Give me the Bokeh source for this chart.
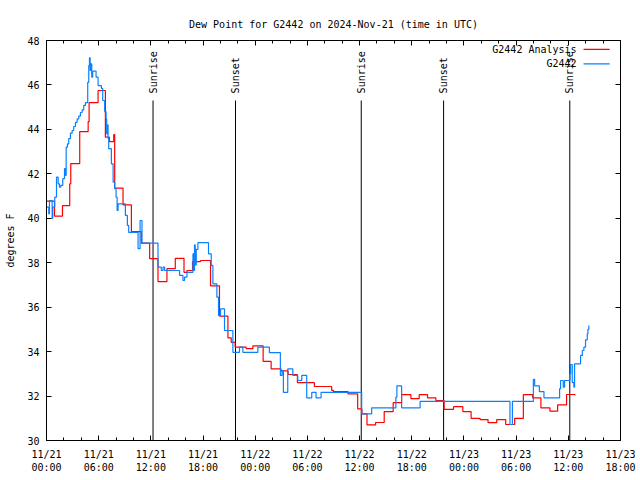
import math
from bokeh.plotting import figure
from bokeh.models import Range1d, FixedTicker, LinearAxis, Title
from bokeh.core.properties import value
from bokeh.embed import file_html
from bokeh.resources import INLINE

FONT = "DejaVu Sans Mono"

# ---- data (hours since 2024-11-21 00:00 UTC, dew point in degrees F) ----
analysis_hours = [0.0, 0.92, 1.84, 2.67, 2.79, 3.82, 4.79, 4.90, 5.93, 6.77, 7.23, 7.73, 7.84,
                  8.80, 9.76, 10.90, 11.86, 12.82, 13.85, 14.81, 15.81, 16.15, 16.79, 17.71,
                  18.86, 19.89, 20.86, 21.24, 21.69, 22.96, 23.73, 24.91, 25.83, 26.97, 27.78,
                  28.85, 30.80, 32.79, 32.98, 34.66, 35.78, 36.27, 36.85, 37.84, 38.83, 39.86,
                  40.83, 41.90, 42.85, 43.81, 44.77, 45.72, 46.80, 47.87, 48.82, 49.85, 50.77,
                  51.77, 52.80, 53.83, 54.83, 55.90, 56.85, 57.89, 58.77, 59.80, 60.76]
analysis_dewpoint = [40.77, 40.1, 40.57, 41.55, 42.46, 43.9, 44.35, 45.2, 45.75, 43.65, 43.45,
                     43.76, 41.36, 40.6, 39.4, 38.88, 38.18, 37.15, 37.73, 38.2, 37.57, 37.65,
                     38.05, 38.1, 36.96, 35.6, 34.62, 34.42, 34.2, 34.13, 34.26, 33.56, 33.22,
                     33.13, 32.97, 32.6, 32.43, 32.26, 32.2, 32.1, 31.42, 31.2, 30.7, 30.81,
                     31.3, 31.7, 32.06, 31.88, 32.06, 31.92, 31.8, 31.4, 31.52, 31.3, 31.0,
                     30.94, 30.8, 30.94, 30.72, 31.0, 32.06, 31.92, 31.47, 31.32, 31.6, 32.07,
                     32.02]

obs_hours = [0.0, 0.26, 0.34, 0.65, 0.72, 0.95, 1.15, 1.34, 1.49, 1.64, 1.87, 2.07, 2.18, 2.26,
             2.41, 2.56, 2.75, 2.95, 3.13, 3.33, 3.52, 3.71, 3.90, 4.10, 4.28, 4.48, 4.74, 4.86,
             4.94, 5.02, 5.13, 5.20, 5.31, 5.70, 5.93, 6.31, 6.46, 6.69, 6.85, 6.92, 7.00, 7.08,
             7.15, 7.46, 7.66, 7.84, 8.00, 8.12, 8.23, 9.07, 9.30, 9.45, 10.53, 10.76, 10.98,
             12.82, 13.20, 13.40, 13.58, 15.30, 15.69, 15.87, 16.15, 16.84, 16.95, 17.02, 17.10,
             17.22, 17.41, 18.63, 18.94, 19.13, 19.59, 19.78, 20.01, 20.47, 21.43, 22.19, 22.58,
             24.30, 25.63, 26.89, 27.09, 27.24, 27.74, 28.32, 28.89, 29.35, 29.92, 30.50, 30.99,
             31.57, 36.24, 37.39, 40.17, 40.29, 40.83, 42.96, 53.29, 53.57, 55.98, 56.13, 56.67,
             57.20, 59.00, 59.11, 59.42, 59.57, 60.18, 60.26, 60.45, 60.64, 60.72, 61.41, 61.61,
             61.79, 61.98, 62.18, 62.25, 62.36]
obs_dewpoint = [40.5, 40.2, 40.8, 40.0, 40.5, 40.95, 41.85, 41.55, 41.4, 41.48, 41.78, 42.23,
                41.93, 43.2, 43.35, 43.58, 43.83, 43.95, 44.13, 44.32, 44.47, 44.6, 44.76, 44.88,
                45.08, 45.2, 46.12, 46.87, 47.22, 46.65, 46.95, 46.35, 46.62, 46.35, 45.97, 45.85,
                45.3, 44.8, 44.47, 43.8, 44.2, 43.6, 43.13, 42.45, 41.63, 41.33, 40.95, 40.35,
                40.65, 40.13, 39.68, 39.37, 38.63, 39.9, 38.88, 37.8, 37.65, 37.8, 37.65, 37.43,
                37.2, 37.35, 37.57, 38.4, 37.65, 38.8, 37.9, 38.6, 38.9, 38.4, 37.88, 37.05,
                36.45, 35.63, 35.92, 34.95, 33.97, 34.2, 33.97, 34.2, 33.95, 32.93, 33.15, 32.17,
                33.22, 32.93, 32.7, 32.93, 31.92, 32.17, 31.92, 32.17, 31.2, 31.47, 31.95, 32.46,
                31.47, 31.76, 30.72, 31.76, 32.75, 32.46, 32.2, 31.92, 32.33, 32.7, 32.4, 32.7,
                33.0, 33.42, 32.6, 32.4, 33.45, 33.83, 34.05, 34.2, 34.53, 34.8, 35.0, 35.17]

sun_hours = [12.25, 21.73, 36.19, 45.66, 60.17]
sun_names = ["Sunrise", "Sunset", "Sunrise", "Sunset", "Sunrise"]

tick_hours = [0, 6, 12, 18, 24, 30, 36, 42, 48, 54, 60, 66]
tick_labels = ["11/21\n00:00", "11/21\n06:00", "11/21\n12:00", "11/21\n18:00",
               "11/22\n00:00", "11/22\n06:00", "11/22\n12:00", "11/22\n18:00",
               "11/23\n00:00", "11/23\n06:00", "11/23\n12:00", "11/23\n18:00"]
y_ticks = [30, 32, 34, 36, 38, 40, 42, 44, 46, 48]

title_text = "Dew Point for G2442 on 2024-Nov-21 (time in UTC)"
series_names = ["G2442 Analysis", "G2442"]
RED = "#ff0000"
BLUE = "#0a80ff"

p = figure(width=640, height=480, output_backend="svg", toolbar_location=None,
           x_range=Range1d(0, 66), y_range=Range1d(30, 48),
           min_border_left=46, min_border_right=20, min_border_top=40, min_border_bottom=40)
p.background_fill_color = "white"
p.border_fill_color = "white"
p.outline_line_color = "black"
p.outline_line_width = 1
p.xgrid.visible = False
p.ygrid.visible = False

p.title = Title(text=title_text, align="center",
                text_font=FONT, text_font_size="10px", text_font_style="normal",
                text_color="black", standoff=22)

def style_axis(ax, labels=True):
    ax.axis_line_color = "black"
    ax.major_tick_in = 5
    ax.major_tick_out = 0
    ax.minor_tick_in = 3
    ax.minor_tick_out = 0
    ax.major_tick_line_color = "black"
    ax.minor_tick_line_color = "black"
    ax.major_label_text_font = FONT
    ax.major_label_text_font_size = "10px"
    ax.major_label_text_color = "black"
    if not labels:
        ax.major_label_text_font_size = "0px"
        ax.major_label_text_alpha = 0
        ax.major_label_standoff = 0

xt = FixedTicker(ticks=tick_hours, minor_ticks=list(range(0, 67, 2)))
yt = FixedTicker(ticks=y_ticks, minor_ticks=[])

p.xaxis.ticker = xt
p.xaxis.major_label_overrides = {h: lab for h, lab in zip(tick_hours, tick_labels)}
p.xaxis.major_label_standoff = 8
style_axis(p.xaxis[0])
p.yaxis.ticker = yt
p.yaxis.major_label_standoff = 7
p.yaxis.axis_label = "degrees F"
p.yaxis.axis_label_text_font = FONT
p.yaxis.axis_label_text_font_size = "10px"
p.yaxis.axis_label_text_font_style = "normal"
p.yaxis.axis_label_text_color = "black"
p.yaxis.axis_label_standoff = 8
style_axis(p.yaxis[0])

top = LinearAxis(ticker=xt)
style_axis(top, labels=False)
p.add_layout(top, "above")
right = LinearAxis(ticker=yt)
style_axis(right, labels=False)
p.add_layout(right, "right")

# sunrise / sunset markers
p.segment(x0=sun_hours, y0=[30] * len(sun_hours), x1=sun_hours, y1=[45.3] * len(sun_hours),
          line_color="black", line_width=1)
p.text(x=sun_hours, y=[45.62] * len(sun_hours), text=sun_names, angle=math.pi / 2,
       text_align="left", text_baseline="middle", text_font=value(FONT),
       text_font_size="10px", text_color="black")

# data
p.step(analysis_hours, analysis_dewpoint, mode="after", line_color=RED, line_width=1.2)
p.step(obs_hours, obs_dewpoint, mode="after", line_color=BLUE, line_width=1.2)

# gnuplot-style key (text, then line sample)
key_y = [47.6, 46.95]
p.text(x=[60.95, 60.95], y=key_y, text=series_names, text_align="right",
       text_baseline="middle", text_font=value(FONT), text_font_size="10px",
       text_color="black")
p.segment(x0=[61.75] * 2, y0=key_y, x1=[64.75] * 2, y1=key_y,
          line_color=[RED, BLUE], line_width=1.2)

open("out.html", "w").write(file_html(p, INLINE))
